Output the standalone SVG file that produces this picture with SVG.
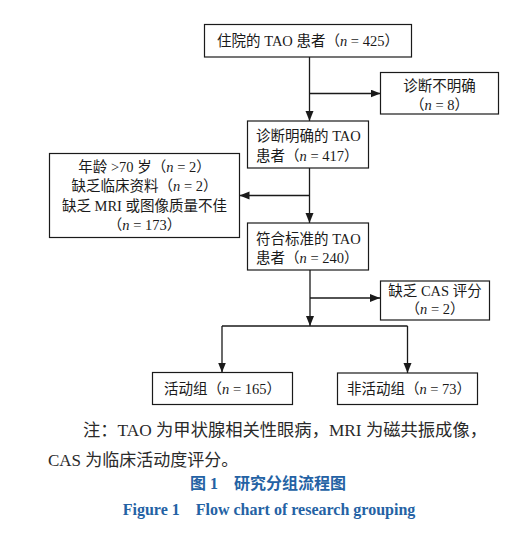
<svg xmlns="http://www.w3.org/2000/svg" width="527" height="539" viewBox="0 0 527 539">
<style>
.box{fill:#fff;stroke:#1a1a1a;stroke-width:1.2}
.t{font-family:"Noto Sans CJK SC",sans-serif;font-size:14.5px;fill:#1a1a1a}
.L{font-family:"Liberation Serif",serif}
.c{text-anchor:middle}
.i{font-family:"Liberation Serif",serif;font-style:italic}
.ln{fill:none;stroke:#1a1a1a;stroke-width:1.3}
.note{font-family:"Noto Sans CJK SC",sans-serif;font-size:17px;fill:#2a2a2a}
.cap{font-family:"Liberation Serif","Noto Sans CJK SC",serif;font-size:16px;font-weight:bold;fill:#2462a4;text-anchor:middle}
</style>
<defs>
<marker id="ah" markerUnits="userSpaceOnUse" markerWidth="11" markerHeight="9" refX="10" refY="4" orient="auto">
<path d="M0,0 L10,4 L0,8 z" fill="#1a1a1a"/>
</marker>
</defs>
<rect width="527" height="539" fill="#fff"/>
<g id="connectors">
<line class="ln" x1="309.5" y1="57" x2="309.5" y2="121" marker-end="url(#ah)"/>
<line class="ln" x1="309.5" y1="93.5" x2="380.5" y2="93.5" marker-end="url(#ah)"/>
<line class="ln" x1="309.5" y1="168" x2="309.5" y2="223" marker-end="url(#ah)"/>
<line class="ln" x1="309.5" y1="195.5" x2="239.5" y2="195.5" marker-end="url(#ah)"/>
<line class="ln" x1="310" y1="270" x2="310" y2="326" marker-end="url(#ah)"/>
<line class="ln" x1="310" y1="298" x2="380" y2="298" marker-end="url(#ah)"/>
<line class="ln" x1="222" y1="326" x2="407.5" y2="326"/>
<line class="ln" x1="222" y1="326" x2="222" y2="372.5" marker-end="url(#ah)"/>
<line class="ln" x1="407.5" y1="326" x2="407.5" y2="373" marker-end="url(#ah)"/>
</g>
<g id="n1">
<rect class="box" x="204.5" y="24.5" width="207" height="32.5"/>
<text class="t c" x="308" y="45.5">住院的<tspan class="L"> TAO </tspan>患者（<tspan class="i">n</tspan><tspan class="L"> = 425</tspan>）</text>
</g>
<g id="n2">
<rect class="box" x="380.5" y="72.5" width="118" height="41.5"/>
<text class="t c" x="439.5" y="91">诊断不明确</text>
<text class="t c" x="439.5" y="110">（<tspan class="i">n</tspan><tspan class="L"> = 8</tspan>）</text>
</g>
<g id="n3">
<rect class="box" x="247.5" y="121" width="121" height="47"/>
<text class="t" x="256" y="141">诊断明确的<tspan class="L"> TAO</tspan></text>
<text class="t" x="256" y="160.5">患者（<tspan class="i">n</tspan><tspan class="L"> = 417</tspan>）</text>
</g>
<g id="n4">
<rect class="box" x="49.5" y="153.5" width="190" height="84"/>
<text class="t c" x="144.5" y="171.5">年龄<tspan class="L"> &gt;70 </tspan>岁（<tspan class="i">n</tspan><tspan class="L"> = 2</tspan>）</text>
<text class="t c" x="144.5" y="191">缺乏临床资料（<tspan class="i">n</tspan><tspan class="L"> = 2</tspan>）</text>
<text class="t c" x="144.5" y="210.5">缺乏<tspan class="L"> MRI </tspan>或图像质量不佳</text>
<text class="t c" x="144.5" y="230">（<tspan class="i">n</tspan><tspan class="L"> = 173</tspan>）</text>
</g>
<g id="n5">
<rect class="box" x="247.5" y="223" width="121" height="47"/>
<text class="t" x="256" y="244">符合标准的<tspan class="L"> TAO</tspan></text>
<text class="t" x="256" y="263">患者（<tspan class="i">n</tspan><tspan class="L"> = 240</tspan>）</text>
</g>
<g id="n6">
<rect class="box" x="380.5" y="281" width="109" height="39"/>
<text class="t c" x="435" y="295.5">缺乏<tspan class="L"> CAS </tspan>评分</text>
<text class="t c" x="435" y="314">（<tspan class="i">n</tspan><tspan class="L"> = 2</tspan>）</text>
</g>
<g id="n7">
<rect class="box" x="152.5" y="372.5" width="140" height="32"/>
<text class="t c" x="222.5" y="394">活动组（<tspan class="i">n</tspan><tspan class="L"> = 165</tspan>）</text>
</g>
<g id="n8">
<rect class="box" x="337.5" y="373" width="140" height="31.5"/>
<text class="t c" x="409" y="394">非活动组（<tspan class="i">n</tspan><tspan class="L"> = 73</tspan>）</text>
</g>
<text class="note" x="83" y="436" textLength="404" lengthAdjust="spacingAndGlyphs">注：<tspan class="L">TAO </tspan>为甲状腺相关性眼病，<tspan class="L">MRI </tspan>为磁共振成像，</text>
<text class="note" x="48" y="466"><tspan class="L">CAS </tspan>为临床活动度评分。</text>
<text class="cap" x="268" y="489">图 1　研究分组流程图</text>
<text class="cap" x="269" y="515">Figure 1　Flow chart of research grouping</text>
</svg>
